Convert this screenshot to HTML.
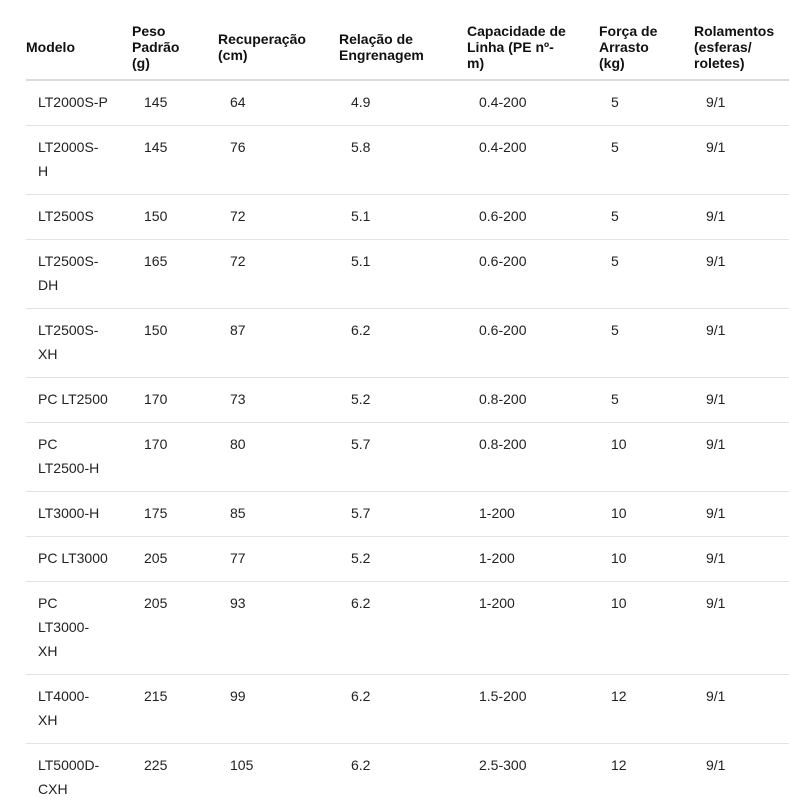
<!DOCTYPE html>
<html><head><meta charset="utf-8"><style>
body{margin:0;width:789px;height:808px;overflow:hidden;background:#fff;font-family:"Liberation Sans",sans-serif;color:#1a1a1a;position:relative}
.h{position:absolute;font-weight:bold;font-size:14px;line-height:16px;color:#111}
.c{position:absolute;font-size:14px;line-height:24px;color:#222}
.l{position:absolute;left:26px;right:0;height:1px;background:#e3e3e3}
.l0{height:2px;background:#dcdcdc}
</style></head><body>
<div class="h" style="left:26px;top:39px">Modelo</div>
<div class="h" style="left:132px;top:23px">Peso<br>Padrão<br>(g)</div>
<div class="h" style="left:218px;top:31px">Recuperação<br>(cm)</div>
<div class="h" style="left:339px;top:31px">Relação de<br>Engrenagem</div>
<div class="h" style="left:467px;top:23px">Capacidade de<br>Linha (PE nº-<br>m)</div>
<div class="h" style="left:599px;top:23px">Força de<br>Arrasto<br>(kg)</div>
<div class="h" style="left:694px;top:23px">Rolamentos<br>(esferas/<br>roletes)</div>
<div class="l l0" style="top:79px"></div>

<div class="c" style="left:38px;top:90px">LT2000S-P</div><div class="c" style="left:144px;top:90px">145</div><div class="c" style="left:230px;top:90px">64</div><div class="c" style="left:351px;top:90px">4.9</div><div class="c" style="left:479px;top:90px">0.4-200</div><div class="c" style="left:611px;top:90px">5</div><div class="c" style="left:706px;top:90px">9/1</div>
<div class="l" style="top:125px"></div>
<div class="c" style="left:38px;top:135px">LT2000S-<br>H</div><div class="c" style="left:144px;top:135px">145</div><div class="c" style="left:230px;top:135px">76</div><div class="c" style="left:351px;top:135px">5.8</div><div class="c" style="left:479px;top:135px">0.4-200</div><div class="c" style="left:611px;top:135px">5</div><div class="c" style="left:706px;top:135px">9/1</div>
<div class="l" style="top:194px"></div>
<div class="c" style="left:38px;top:204px">LT2500S</div><div class="c" style="left:144px;top:204px">150</div><div class="c" style="left:230px;top:204px">72</div><div class="c" style="left:351px;top:204px">5.1</div><div class="c" style="left:479px;top:204px">0.6-200</div><div class="c" style="left:611px;top:204px">5</div><div class="c" style="left:706px;top:204px">9/1</div>
<div class="l" style="top:239px"></div>
<div class="c" style="left:38px;top:249px">LT2500S-<br>DH</div><div class="c" style="left:144px;top:249px">165</div><div class="c" style="left:230px;top:249px">72</div><div class="c" style="left:351px;top:249px">5.1</div><div class="c" style="left:479px;top:249px">0.6-200</div><div class="c" style="left:611px;top:249px">5</div><div class="c" style="left:706px;top:249px">9/1</div>
<div class="l" style="top:308px"></div>
<div class="c" style="left:38px;top:318px">LT2500S-<br>XH</div><div class="c" style="left:144px;top:318px">150</div><div class="c" style="left:230px;top:318px">87</div><div class="c" style="left:351px;top:318px">6.2</div><div class="c" style="left:479px;top:318px">0.6-200</div><div class="c" style="left:611px;top:318px">5</div><div class="c" style="left:706px;top:318px">9/1</div>
<div class="l" style="top:377px"></div>
<div class="c" style="left:38px;top:387px">PC LT2500</div><div class="c" style="left:144px;top:387px">170</div><div class="c" style="left:230px;top:387px">73</div><div class="c" style="left:351px;top:387px">5.2</div><div class="c" style="left:479px;top:387px">0.8-200</div><div class="c" style="left:611px;top:387px">5</div><div class="c" style="left:706px;top:387px">9/1</div>
<div class="l" style="top:422px"></div>
<div class="c" style="left:38px;top:432px">PC<br>LT2500-H</div><div class="c" style="left:144px;top:432px">170</div><div class="c" style="left:230px;top:432px">80</div><div class="c" style="left:351px;top:432px">5.7</div><div class="c" style="left:479px;top:432px">0.8-200</div><div class="c" style="left:611px;top:432px">10</div><div class="c" style="left:706px;top:432px">9/1</div>
<div class="l" style="top:491px"></div>
<div class="c" style="left:38px;top:501px">LT3000-H</div><div class="c" style="left:144px;top:501px">175</div><div class="c" style="left:230px;top:501px">85</div><div class="c" style="left:351px;top:501px">5.7</div><div class="c" style="left:479px;top:501px">1-200</div><div class="c" style="left:611px;top:501px">10</div><div class="c" style="left:706px;top:501px">9/1</div>
<div class="l" style="top:536px"></div>
<div class="c" style="left:38px;top:546px">PC LT3000</div><div class="c" style="left:144px;top:546px">205</div><div class="c" style="left:230px;top:546px">77</div><div class="c" style="left:351px;top:546px">5.2</div><div class="c" style="left:479px;top:546px">1-200</div><div class="c" style="left:611px;top:546px">10</div><div class="c" style="left:706px;top:546px">9/1</div>
<div class="l" style="top:581px"></div>
<div class="c" style="left:38px;top:591px">PC<br>LT3000-<br>XH</div><div class="c" style="left:144px;top:591px">205</div><div class="c" style="left:230px;top:591px">93</div><div class="c" style="left:351px;top:591px">6.2</div><div class="c" style="left:479px;top:591px">1-200</div><div class="c" style="left:611px;top:591px">10</div><div class="c" style="left:706px;top:591px">9/1</div>
<div class="l" style="top:674px"></div>
<div class="c" style="left:38px;top:684px">LT4000-<br>XH</div><div class="c" style="left:144px;top:684px">215</div><div class="c" style="left:230px;top:684px">99</div><div class="c" style="left:351px;top:684px">6.2</div><div class="c" style="left:479px;top:684px">1.5-200</div><div class="c" style="left:611px;top:684px">12</div><div class="c" style="left:706px;top:684px">9/1</div>
<div class="l" style="top:743px"></div>
<div class="c" style="left:38px;top:753px">LT5000D-<br>CXH</div><div class="c" style="left:144px;top:753px">225</div><div class="c" style="left:230px;top:753px">105</div><div class="c" style="left:351px;top:753px">6.2</div><div class="c" style="left:479px;top:753px">2.5-300</div><div class="c" style="left:611px;top:753px">12</div><div class="c" style="left:706px;top:753px">9/1</div>
</body></html>
